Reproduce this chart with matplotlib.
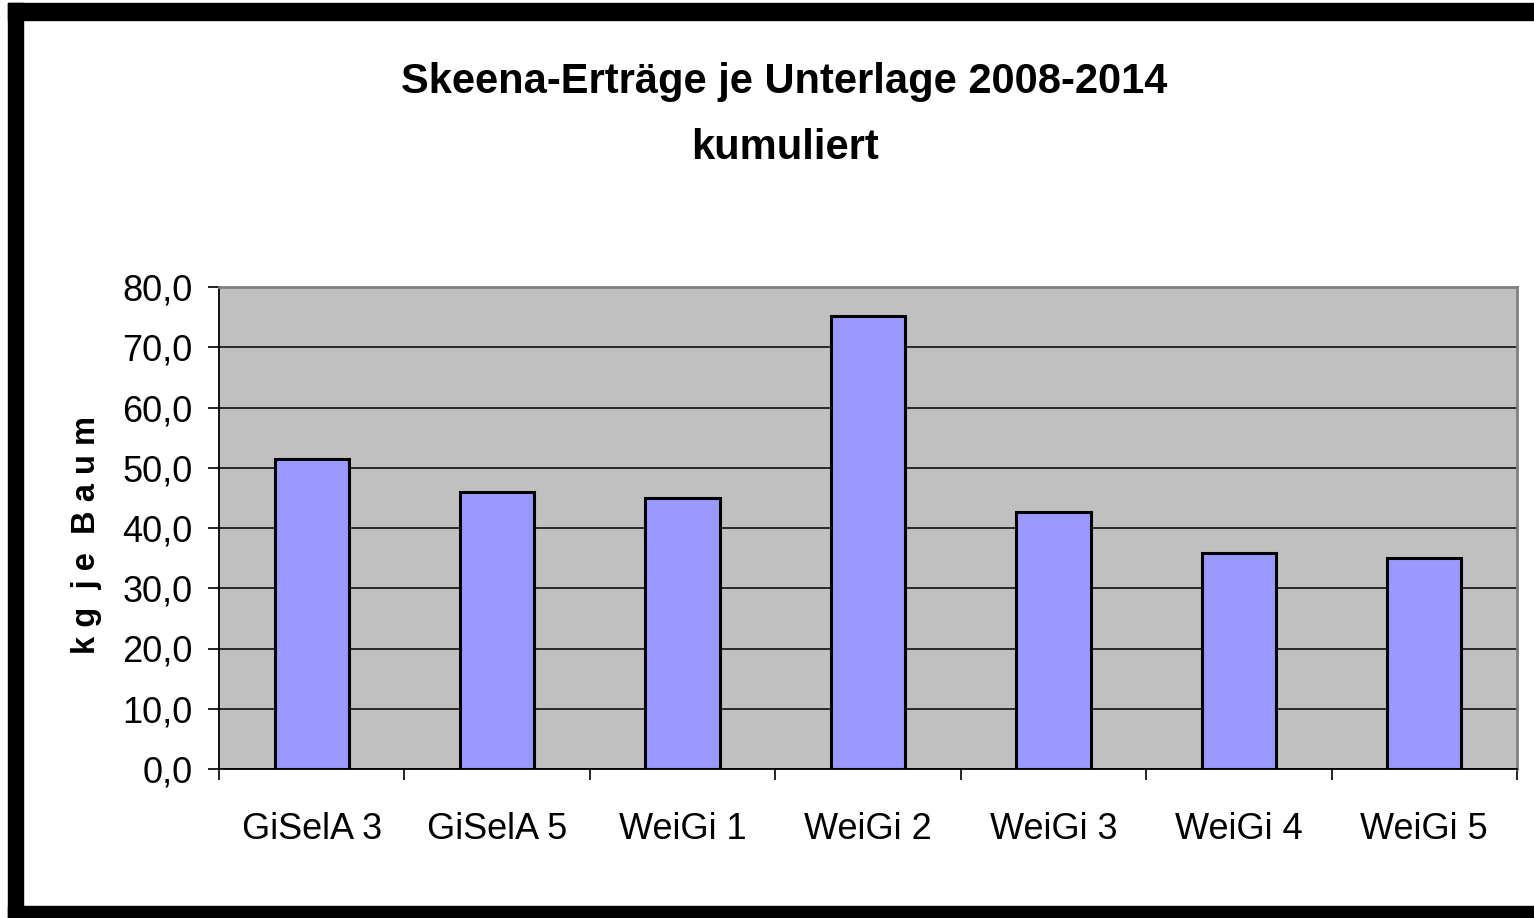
import matplotlib
matplotlib.use("Agg")
import matplotlib.pyplot as plt
from matplotlib.patches import Rectangle
from matplotlib.ticker import FuncFormatter, FixedLocator

plt.rcParams['font.family'] = ['Liberation Sans', 'DejaVu Sans']

# Ertraege kumuliert 2008-2014 (kg je Baum)
unterlagen = ["GiSelA 3", "GiSelA 5", "WeiGi 1", "WeiGi 2", "WeiGi 3", "WeiGi 4", "WeiGi 5"]
ertrag = [51.5, 45.9, 45.0, 75.2, 42.7, 35.9, 35.0]
y_ticks = [0, 10, 20, 30, 40, 50, 60, 70, 80]

W, H = 1534, 918
fig = plt.figure(figsize=(W / 100, H / 100), dpi=100)
fig.patch.set_facecolor("white")

# black frame (top, left, bottom) like the screenshot
for (x0, y0, w, h) in [(8, 3, W - 8, 17), (8, 3, 15, H - 3), (8, 906, W - 8, 12)]:
    fig.patches.append(Rectangle((x0 / W, 1 - (y0 + h) / H), w / W, h / H,
                                 transform=fig.transFigure, color="black", zorder=0))

ax = fig.add_axes([219 / W, 1 - 769 / H, (1517 - 219) / W, (769 - 287) / H])
ax.set_facecolor("#C0C0C0")

x = list(range(len(unterlagen)))
ax.bar(x, ertrag, width=0.4, color="#9999FF", edgecolor="black", linewidth=2.2, zorder=3)

ax.set_xlim(-0.5, len(unterlagen) - 0.5)
ax.set_ylim(0, 80)
ax.set_yticks(y_ticks)
ax.yaxis.set_major_formatter(FuncFormatter(lambda v, p: f"{v:.1f}".replace(".", ",")))
ax.grid(axis="y", color="black", linewidth=1.1, zorder=1)
ax.set_axisbelow(True)

ax.set_xticks(x)
ax.set_xticklabels(unterlagen)
ax.xaxis.set_minor_locator(FixedLocator([i - 0.5 for i in range(len(unterlagen) + 1)]))
ax.tick_params(axis="x", which="major", length=0, pad=31, labelsize=26)
ax.tick_params(axis="x", which="minor", length=8, width=1.2, direction="out")
ax.tick_params(axis="y", length=8, width=1.2, pad=11, labelsize=26)

for side in ["left", "bottom"]:
    ax.spines[side].set_color("black")
    ax.spines[side].set_linewidth(1.3)
for side in ["top", "right"]:
    ax.spines[side].set_color("#808080")
    ax.spines[side].set_linewidth(2)

fig.text(784 / W, 1 - 82 / H, "Skeena-Erträge je Unterlage 2008-2014",
         ha="center", va="center", fontsize=30, fontweight="bold")
fig.text(785 / W, 1 - 148 / H, "kumuliert",
         ha="center", va="center", fontsize=30, fontweight="bold")
fig.text(87 / W, 1 - 535 / H, "k g  j e  B a u m", rotation=90,
         ha="center", va="center", fontsize=23.5, fontweight="bold")

fig.savefig("out.png", dpi=100)
